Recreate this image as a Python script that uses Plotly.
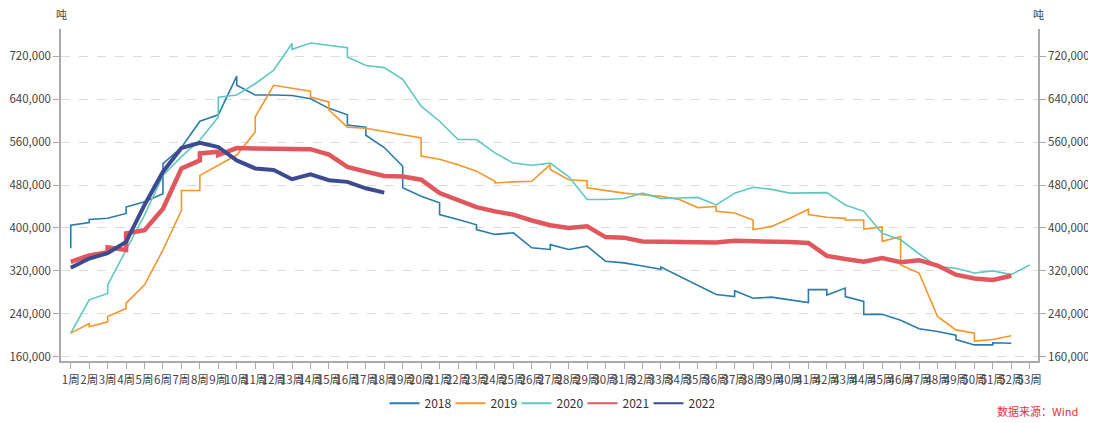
import plotly.graph_objects as go

# ---- data ----
week_labels = [f"{i}周" for i in range(1, 54)]
week_ticks = list(range(1, 54))

weeks_2018 = [1,1,2,2,3,4,4,5,6,6,7,8,9,10,10,11,12,13,14,15,16,16,17,17,18,19,19,20,21,21,22,23,23,24,25,26,27,27,28,29,30,31,32,33,33,34,35,36,37,37,38,39,40,41,41,42,42,43,43,44,44,45,46,47,48,49,49,50,51,51,52]
vals_2018 = [362000,405000,410000,416000,418000,427000,439000,449000,464000,520000,550000,599000,611000,683000,666000,648000,648000,647000,641000,623000,611000,592000,588000,573000,550000,515000,475000,459000,447000,425000,416000,406000,397000,388000,391000,363000,360000,369000,360000,366000,338000,335000,329000,323000,327000,310000,292000,276000,272000,283000,269000,271000,266000,261000,285000,285000,275000,288000,272000,263000,239000,239000,228000,212000,207000,200000,192000,182000,182000,186000,185000]

weeks_2019 = [1,2,2,3,3,4,4,5,6,7,7,8,8,9,10,11,11,12,13,14,14,15,15,16,17,18,19,20,20,21,22,23,24,24,25,26,27,27,28,29,29,30,31,32,33,34,35,36,36,37,38,38,39,40,41,41,42,43,43,44,44,45,45,46,46,47,48,49,50,50,51,52]
vals_2019 = [204000,222000,216000,225000,235000,250000,260000,294000,359000,433000,470000,470000,498000,517000,536000,579000,607000,666000,660000,655000,644000,635000,620000,588000,586000,580000,575000,568000,534000,528000,518000,506000,487000,484000,486000,487000,518000,509000,490000,488000,475000,470000,465000,462000,459000,453000,438000,440000,431000,428000,415000,397000,403000,418000,435000,425000,420000,418000,415000,415000,398000,402000,375000,384000,331000,316000,235000,210000,204000,189000,192000,199000]

weeks_2020 = [1,2,3,3,4,5,6,7,8,9,9,10,11,12,13,13,14,15,16,16,17,18,19,20,21,22,23,24,25,26,27,28,29,30,31,32,33,34,35,36,37,38,39,40,41,42,43,44,45,46,47,48,49,50,51,52,53]
vals_2020 = [204000,266000,278000,294000,359000,424000,498000,533000,564000,607000,644000,648000,669000,694000,744000,733000,745000,741000,736000,719000,703000,699000,677000,627000,599000,565000,565000,540000,521000,517000,521000,496000,453000,453000,455000,465000,455000,456000,457000,443000,465000,476000,472000,465000,465000,466000,443000,431000,390000,378000,352000,328000,325000,316000,320000,313000,331000]

weeks_2021 = [1,2,3,3,4,4,5,6,7,8,8,9,9,10,11,12,13,14,15,16,17,18,19,20,21,22,23,24,25,26,27,28,29,30,31,32,33,34,35,36,37,38,39,40,41,42,43,44,45,46,47,48,49,50,51,52]
vals_2021 = [337000,349000,355000,364000,359000,390000,396000,436000,511000,526000,539000,542000,536000,549000,548000,547000,547000,547000,537000,514000,505000,497000,496000,490000,465000,451000,439000,431000,425000,414000,405000,400000,403000,383000,382000,375000,374000,375000,372000,373000,376000,376000,376000,374000,372000,348000,342000,337000,344000,336000,340000,330000,313000,306000,303000,311000]

weeks_2022 = list(range(1, 19))
vals_2022 = [326000,343000,353000,374000,443000,505000,549000,559000,551000,526000,511000,508000,491000,500000,489000,486000,474000,466000]

y_ticks = [160000, 240000, 320000, 400000, 480000, 560000, 640000, 720000]
y_range = [152000, 771000]

series = [
    ("2018", weeks_2018, vals_2018, "#2b7bab", 1.6),
    ("2019", weeks_2019, vals_2019, "#f5962a", 1.6),
    ("2020", weeks_2020, vals_2020, "#5fc8c2", 1.6),
    ("2021", weeks_2021, vals_2021, "#e0585e", 4.5),
    ("2022", weeks_2022, vals_2022, "#3e4a8f", 4.0),
]

fig = go.Figure()
for name, xs, ys, color, w in series:
    fig.add_trace(go.Scatter(x=xs, y=ys, mode="lines", name=name, showlegend=False,
                             legendgroup=name, line=dict(color=color, width=w)))
# legend entries drawn with uniform thin lines, as in the reference
for name, xs, ys, color, w in series:
    fig.add_trace(go.Scatter(x=[None], y=[None], mode="lines", name=name,
                             legendgroup=name, line=dict(color=color, width=2),
                             hoverinfo="skip"))

font_family = "Noto Sans CJK SC, Noto Sans, sans-serif"
tick_font = dict(family=font_family, size=11.5, color="#444")

# the page adds an 8px body margin, so the figure is 8px smaller than the window
fig.update_layout(
    width=1088, height=415,
    margin=dict(l=53, r=58, t=21, b=62, autoexpand=False),
    paper_bgcolor="white", plot_bgcolor="white",
    font=dict(family=font_family, color="#444"),
    showlegend=True,
    legend=dict(orientation="h", x=0.5, xanchor="center", y=-0.127, yanchor="middle",
                font=dict(family=font_family, size=12, color="#333"),
                itemwidth=30, tracegroupgap=0, entrywidth=21),
    xaxis=dict(range=[0.47, 53.45], tickmode="array", tickvals=week_ticks,
               ticktext=week_labels, tickangle=0, automargin=False,
               showline=True, linecolor="#aaa", linewidth=1.5,
               ticks="outside", ticklen=6, tickcolor="#aaa", ticklabelstandoff=1,
               showgrid=False, zeroline=False,
               tickfont=dict(family=font_family, size=11.5, color="#444")),
    yaxis=dict(range=y_range, tickmode="array", tickvals=y_ticks, automargin=False,
               tickformat=",d", showline=True, linecolor="#aaa", linewidth=1.5,
               ticks="outside", ticklen=6, tickcolor="#aaa",
               showgrid=True, gridcolor="#dcdcdc", griddash="dash", gridwidth=1,
               zeroline=False, tickfont=tick_font),
    yaxis2=dict(range=y_range, overlaying="y", side="right", tickmode="array",
                tickvals=y_ticks, tickformat=",d", showline=True, linecolor="#aaa",
                linewidth=1.5, ticks="outside", ticklen=6, tickcolor="#aaa",
                automargin=False, showgrid=False, zeroline=False, tickfont=tick_font),
)

fig.add_trace(go.Scatter(x=[None], y=[None], yaxis="y2", showlegend=False, hoverinfo="skip"))

fig.add_annotation(text="吨", xref="paper", yref="paper", x=0, y=1.044, showarrow=False,
                   xanchor="center", yanchor="middle", font=dict(family=font_family, size=11, color="#444"))
fig.add_annotation(text="吨", xref="paper", yref="paper", x=1, y=1.044, showarrow=False,
                   xanchor="center", yanchor="middle", font=dict(family=font_family, size=11, color="#444"))
fig.add_annotation(text="数据来源：Wind", xref="paper", yref="paper", x=1.043, y=-0.152,
                   showarrow=False, xanchor="right", yanchor="middle",
                   font=dict(family=font_family, size=11, color="#e0333c"))

fig.write_html("out.html")
